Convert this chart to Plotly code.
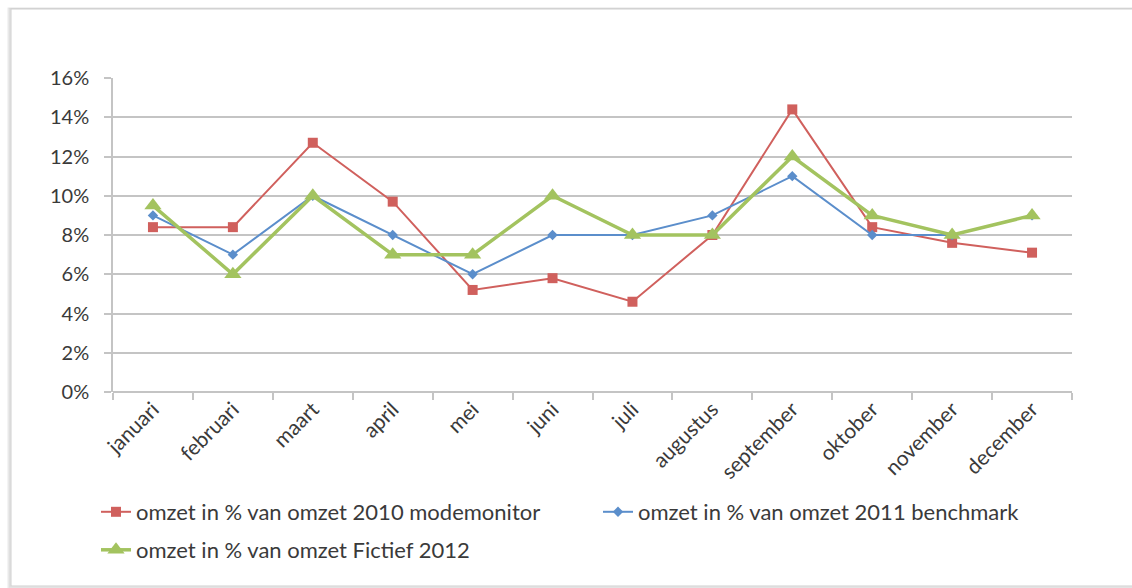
import plotly.graph_objects as go

# Months on the category axis
maanden = ["januari", "februari", "maart", "april", "mei", "juni",
           "juli", "augustus", "september", "oktober", "november", "december"]

# Monthly turnover as a share of the yearly turnover (%)
modemonitor_2010 = [8.4, 8.4, 12.7, 9.7, 5.2, 5.8, 4.6, 8.0, 14.4, 8.4, 7.6, 7.1]
benchmark_2011 = [9.0, 7.0, 10.0, 8.0, 6.0, 8.0, 8.0, 9.0, 11.0, 8.0, 8.0, 9.0]
fictief_2012 = [9.5, 6.0, 10.0, 7.0, 7.0, 10.0, 8.0, 8.0, 12.0, 9.0, 8.0, 9.0]

y_ticks = [0, 2, 4, 6, 8, 10, 12, 14, 16]
y_tick_labels = [f"{v}%" for v in y_ticks]

naam_2010 = "omzet in % van omzet 2010 modemonitor"
naam_2011 = "omzet in % van omzet 2011 benchmark"
naam_2012 = "omzet in % van omzet Fictief 2012"

RED = "#D0605D"
BLUE = "#5B8ECB"
GREEN = "#A3C35F"
GRID = "#C4C4C4"
TEXT = "#3A3A3A"
FONT = "Lato"

W, H = 1132, 588
L, R, T, B = 113, 60, 78, 196
PW, PH = W - L - R, H - T - B


def px_x(x):
    return (x - L) / PW


def px_y(y):
    return (H - B - y) / PH


fig = go.Figure()

fig.add_trace(go.Scatter(
    x=maanden, y=modemonitor_2010, name=naam_2010, mode="lines+markers",
    line=dict(color=RED, width=2),
    marker=dict(symbol="square", size=10, color=RED),
    legend="legend", showlegend=True,
))
fig.add_trace(go.Scatter(
    x=maanden, y=benchmark_2011, name=naam_2011, mode="lines+markers",
    line=dict(color=BLUE, width=2),
    marker=dict(symbol="diamond", size=8, color=BLUE),
    legend="legend2", showlegend=True,
))
fig.add_trace(go.Scatter(
    x=maanden, y=fictief_2012, name=naam_2012, mode="lines+markers",
    line=dict(color=GREEN, width=3.5),
    marker=dict(symbol="triangle-up", size=15, color=GREEN),
    legend="legend3", showlegend=True,
))

legend_common = dict(
    orientation="h", xanchor="left", yanchor="middle",
    font=dict(family=FONT, size=22, color=TEXT),
    bgcolor="rgba(0,0,0,0)", itemwidth=30,
)

# Chart frame with a soft shadow along the left and bottom edges
shapes = []
for i, c in enumerate(["#EDEDED", "#E2E2E2", "#D6D6D6"]):
    off = 3 - i
    shapes.append(dict(
        type="rect", xref="paper", yref="paper", layer="below",
        x0=px_x(11 - off), x1=px_x(1150), y0=px_y(586 + off), y1=px_y(9 - off * 0.3),
        line=dict(color=c, width=1.2), fillcolor="rgba(0,0,0,0)",
    ))
shapes.append(dict(
    type="rect", xref="paper", yref="paper", layer="below",
    x0=px_x(11), x1=px_x(1150), y0=px_y(586), y1=px_y(9),
    line=dict(color="#CFCFCF", width=1), fillcolor="white",
))

fig.update_layout(
    width=W, height=H,
    margin=dict(l=L, r=R, t=T, b=B),
    paper_bgcolor="white", plot_bgcolor="white",
    font=dict(family=FONT, size=21, color=TEXT),
    shapes=shapes,
    showlegend=True,
    legend=dict(x=px_x(96), y=px_y(512), **legend_common),
    legend2=dict(x=px_x(598), y=px_y(512), **legend_common),
    legend3=dict(x=px_x(96), y=px_y(550), **legend_common),
    xaxis=dict(
        type="category", tickangle=-45, tickson="boundaries",
        ticks="outside", ticklen=7, tickcolor=GRID, tickwidth=1.5,
        showgrid=False, showline=False, zeroline=False,
        tickfont=dict(family=FONT, size=21, color=TEXT),
        range=[-0.5, len(maanden) - 0.5],
    ),
    yaxis=dict(
        range=[0, 16], tickmode="array", tickvals=y_ticks, ticktext=y_tick_labels,
        ticks="outside", ticklen=7, tickcolor=GRID, tickwidth=1.5,
        showgrid=True, gridcolor=GRID, gridwidth=1.5,
        showline=True, linecolor=GRID, linewidth=1.5,
        zeroline=True, zerolinecolor=GRID, zerolinewidth=1.5,
        tickfont=dict(family=FONT, size=20, color=TEXT),
        ticklabelstandoff=11,
    ),
)

fig.write_html("out.html")
